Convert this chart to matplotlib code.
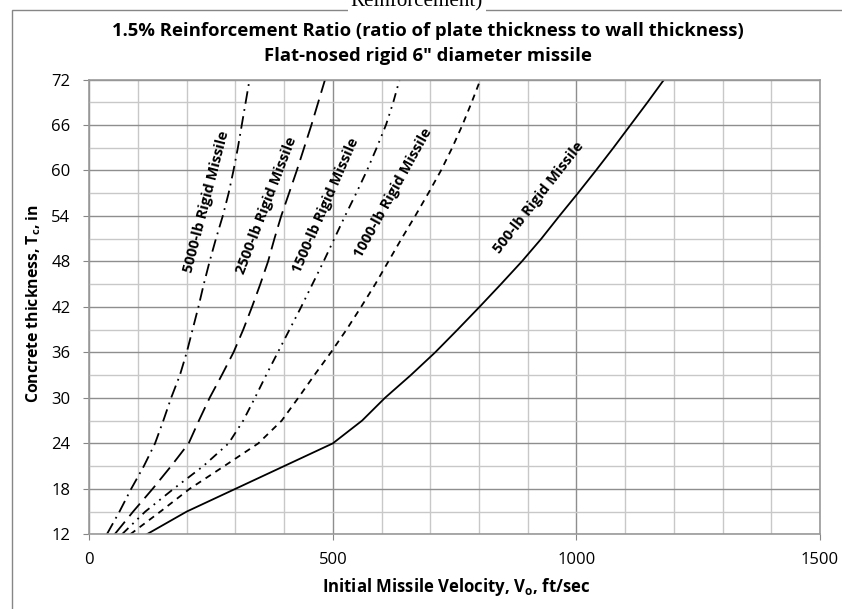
import matplotlib
matplotlib.use("Agg")
import matplotlib.pyplot as plt
from matplotlib.patches import Rectangle
from matplotlib.ticker import MultipleLocator

# ---- data ----
thickness = [12, 15, 18, 21, 24, 27, 30, 33, 36, 39, 42, 45, 48, 51, 54, 57, 60, 63, 66, 69, 72]
v_500 = [118, 200, 300, 400, 500, 560, 607, 660, 710, 756, 801, 845, 888, 928, 965, 1003, 1040, 1076, 1111, 1146, 1180]
v_1000 = [84, 146, 206, 277, 347, 395, 429, 462, 496, 528, 558, 587, 614, 641, 669, 696, 722, 745, 766, 785, 803]
v_1500 = [67, 115, 173, 234, 286, 316, 340, 363, 387, 411, 435, 458, 481, 503, 525, 548, 570, 590, 609, 624, 637]
v_2500 = [52, 90, 130, 168, 204, 225, 247, 272, 296, 316, 334, 351, 367, 380, 394, 410, 426, 441, 456, 470, 484]
v_5000 = [36, 62, 86, 112, 135, 152, 168, 186, 200, 212, 224, 235, 247, 260, 274, 286, 296, 305, 313, 321, 329]

labels = ["5000-lb Rigid Missile", "2500-lb Rigid Missile", "1500-lb Rigid Missile",
          "1000-lb Rigid Missile", "500-lb Rigid Missile"]
label_pos = [(240, 55.9), (363, 55.4), (486, 55.4), (624, 57.0), (922, 56.4)]
label_rot = [75.5, 69, 66.4, 61, 52]

title1 = "1.5% Reinforcement Ratio (ratio of plate thickness to wall thickness)"
title2 = "Flat-nosed rigid 6\" diameter missile"
xlabel = "Initial Missile Velocity, V$_\\mathregular{o}$, ft/sec"
ylabel = "Concrete thickness, T$_\\mathregular{c}$, in"

plt.rcParams['font.family'] = ['Open Sans', 'DejaVu Sans']

fig = plt.figure(figsize=(8.42, 6.09), dpi=100)
W, H = 842, 609
renderer = fig.canvas.get_renderer()


def fit_width(t, target_px):
    rot = t.get_rotation()
    t.set_rotation(0)
    bb = t.get_window_extent(renderer)
    t.set_fontsize(t.get_fontsize() * target_px / bb.width)
    t.set_rotation(rot)
    return t.get_fontsize()


# outer chart frame
fig.patches.append(Rectangle((12 / W, -0.01), 1.0, 1 - 10 / H + 0.01, transform=fig.transFigure,
                             facecolor='white', edgecolor='#868686', linewidth=1.0, zorder=-5))
# clipped caption text from behind (white box interrupts the frame line)
cap = fig.text(417 / W, 1 - 6 / H, "Reinforcement)", family='Liberation Serif', fontsize=15,
               ha='center', va='baseline', color='black', zorder=5,
               bbox=dict(facecolor='white', edgecolor='none', pad=2))
fit_width(cap, 132)

ax = fig.add_axes([89.3 / W, 1 - 534.3 / H, (820 - 89.3) / W, (534.3 - 79.5) / H])
ax.set_facecolor('white')

lw = 1.3
ax.plot(v_5000, thickness, color='black', lw=lw, linestyle=(0, (7, 3, 1, 3)))
ax.plot(v_2500, thickness, color='black', lw=lw, linestyle=(0, (9, 4)))
ax.plot(v_1500, thickness, color='black', lw=lw, linestyle=(0, (5, 3, 1, 3, 1, 3)))
ax.plot(v_1000, thickness, color='black', lw=lw, linestyle=(0, (3.5, 3)))
ax.plot(v_500, thickness, color='black', lw=lw, linestyle='-')

txts = []
for lab, (x, y), r in zip(labels, label_pos, label_rot):
    txts.append(ax.text(x, y, lab, rotation=r, rotation_mode='anchor', ha='center', va='center',
                        fontsize=9, fontweight='bold'))
fs_lab = fit_width(txts[0], 146)
for t in txts[1:]:
    t.set_fontsize(fs_lab)

ax.set_xlim(0, 1500)
ax.set_ylim(12, 72)
ax.xaxis.set_major_locator(MultipleLocator(500))
ax.xaxis.set_minor_locator(MultipleLocator(100))
ax.yaxis.set_major_locator(MultipleLocator(6))
ax.yaxis.set_minor_locator(MultipleLocator(3))
ax.grid(which='major', color='#8e8e8e', linewidth=1.0)
ax.grid(which='minor', color='#c8c8c8', linewidth=1.0)
ax.set_axisbelow(True)
for s in ax.spines.values():
    s.set_color('#9a9a9a')
    s.set_linewidth(1.2)
ax.tick_params(which='major', direction='out', length=4.5, color='#868686', labelsize=12)
ax.tick_params(axis='x', which='major', pad=8)
ax.tick_params(axis='y', which='major', pad=9)
ax.tick_params(which='minor', length=0)

xl = fig.text(456 / W, 1 - 587 / H, xlabel, ha='center', va='center', fontsize=11, fontweight='bold')
fit_width(xl, 268)
yl = fig.text(34 / W, 1 - 304 / H, ylabel, ha='center', va='center', fontsize=11,
              fontweight='bold', rotation=90)
fit_width(yl, 198)

t1 = fig.text(428 / W, 1 - 31 / H, title1, ha='center', va='center', fontsize=13, fontweight='bold')
fs_t = fit_width(t1, 623)
fig.text(428 / W, 1 - 56 / H, title2, ha='center', va='center', fontsize=fs_t, fontweight='bold')

fig.savefig("out.png", dpi=100)
